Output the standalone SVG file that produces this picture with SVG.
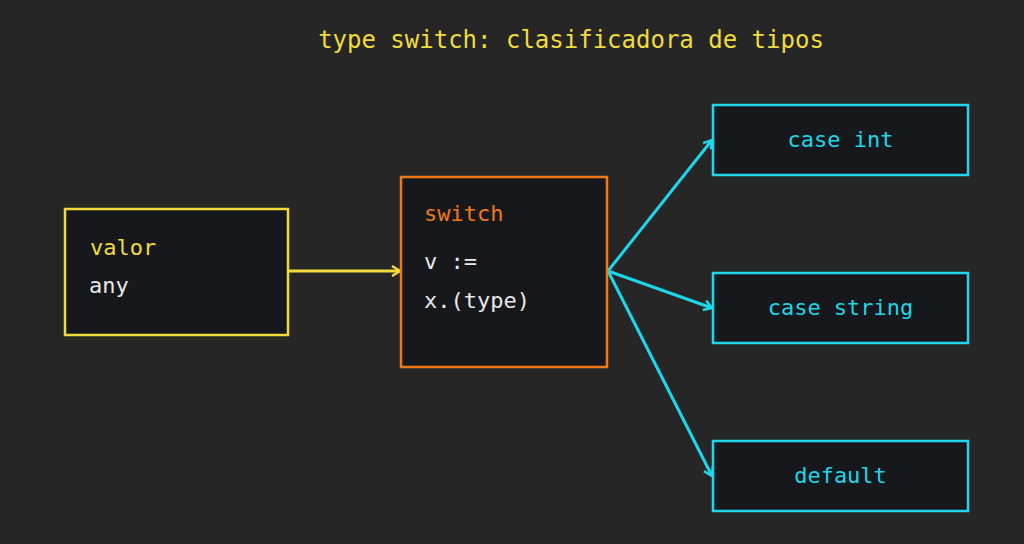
<svg xmlns="http://www.w3.org/2000/svg" width="1024" height="544" viewBox="0 0 1024 544">
<defs>
<style>
text{font-family:"DejaVu Sans Mono","Liberation Mono",monospace;font-size:22px}
.box{fill:#17181b;stroke-width:2.5}
.y{stroke:#f2dc3c}.o{stroke:#f07818}.c{stroke:#1ed6ea}
.ty{fill:#f2dc3c}.to{fill:#f07818}.tc{fill:#1ed6ea}.tw{fill:#e8e8e8}
</style>
<marker id="ay" markerWidth="12" markerHeight="12" refX="10" refY="6" orient="auto" markerUnits="userSpaceOnUse"><path d="M2,1 L10,6 L2,11" fill="none" stroke="#f2dc3c" stroke-width="2.5"/></marker>
<marker id="ac" markerWidth="12" markerHeight="12" refX="10" refY="6" orient="auto" markerUnits="userSpaceOnUse"><path d="M2,1 L10,6 L2,11" fill="none" stroke="#1ed6ea" stroke-width="2.5"/></marker>
</defs>
<rect width="1024" height="544" fill="#262626"/>
<text x="571" y="48" text-anchor="middle" class="ty" style="font-size:24px">type switch: clasificadora de tipos</text>
<g id="connectors" fill="none" stroke-width="3">
<line x1="288" y1="271" x2="400" y2="271" stroke="#f2dc3c" marker-end="url(#ay)"/>
<line x1="608" y1="271" x2="712" y2="140" stroke="#1ed6ea" marker-end="url(#ac)"/>
<line x1="608" y1="271" x2="712" y2="308" stroke="#1ed6ea" marker-end="url(#ac)"/>
<line x1="608" y1="271" x2="712" y2="476" stroke="#1ed6ea" marker-end="url(#ac)"/>
</g>
<g id="valor"><rect class="box y" x="65" y="209" width="223" height="126"/>
<text x="90" y="255" class="ty">valor</text><text x="89" y="293" class="tw">any</text></g>
<g id="switch"><rect class="box o" x="401" y="177" width="206" height="190"/>
<text x="424" y="221" class="to">switch</text><text x="424" y="269" class="tw">v :=</text><text x="424" y="308" class="tw">x.(type)</text></g>
<g id="caseint"><rect class="box c" x="713" y="105" width="255" height="70"/><text x="840.5" y="147" text-anchor="middle" class="tc">case int</text></g>
<g id="casestring"><rect class="box c" x="713" y="273" width="255" height="70"/><text x="840.5" y="315" text-anchor="middle" class="tc">case string</text></g>
<g id="default"><rect class="box c" x="713" y="441" width="255" height="70"/><text x="840.5" y="483" text-anchor="middle" class="tc">default</text></g>
</svg>
